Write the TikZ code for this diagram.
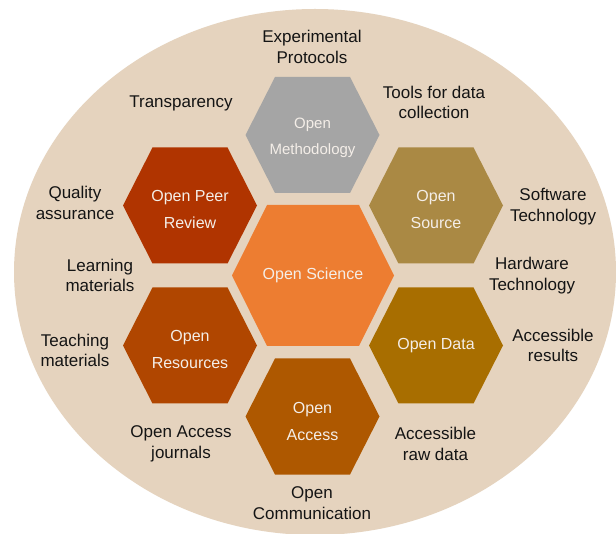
\documentclass[tikz,border=0pt]{standalone}
\usepackage{fontspec}
\setmainfont{Liberation Sans}
\definecolor{bgbeige}{RGB}{229,211,190}
\definecolor{cmeth}{RGB}{165,165,165}
\definecolor{cpeer}{RGB}{176,52,0}
\definecolor{csource}{RGB}{170,137,68}
\definecolor{cscience}{RGB}{237,125,49}
\definecolor{cres}{RGB}{176,70,0}
\definecolor{cdata}{RGB}{168,110,0}
\definecolor{caccess}{RGB}{174,88,0}
\definecolor{hexwhite}{RGB}{244,238,232}
\definecolor{lbltext}{RGB}{20,20,20}
\begin{document}
\begin{tikzpicture}[x=1pt,y=-1pt,
  lbl/.style={align=center, text=lbltext, font=\fontsize{17}{20.5}\selectfont, inner sep=0pt},
  hextxt/.style={align=center, text=hexwhite, font=\fontsize{16}{27}\selectfont, inner sep=0pt},
  smallhex/.pic={\path[pic actions] (-67,0)--(-37.5,-58)--(37.5,-58)--(67,0)--(37.5,58)--(-37.5,58)--cycle;},
  bighex/.pic={\path[pic actions] (-81,0)--(-46,-70.5)--(46,-70.5)--(81,0)--(46,70.5)--(-46,70.5)--cycle;}
]
\useasboundingbox (0,0) rectangle (616,534);
\fill[white] (0,0) rectangle (616,534);
\begin{scope}
\clip (0,0) rectangle (616,534);
\fill[bgbeige] (315,272) ellipse [x radius=301, y radius=263];
\end{scope}

% hexagons
\pic[fill=cmeth] at (312.5,135) {smallhex};
\pic[fill=cpeer] at (190,205.5) {smallhex};
\pic[fill=csource] at (436,205.5) {smallhex};
\pic[fill=cscience] at (313,275.5) {bighex};
\pic[fill=cres] at (190,345.5) {smallhex};
\pic[fill=cdata] at (436,345.5) {smallhex};
\pic[fill=caccess] at (312.5,416.5) {smallhex};

% hexagon texts
\node[hextxt, font=\fontsize{15}{26}\selectfont] (meth) at (312.5,138) {Open\\Methodology};
\node[hextxt] (peer) at (190,209) {Open Peer\\Review};
\node[hextxt] (source) at (436,209.5) {Open\\Source};
\node[hextxt] (science) at (313,275.5) {Open Science};
\node[hextxt] (res) at (190,349.5) {Open\\Resources};
\node[hextxt] (data) at (436,345.5) {Open Data};
\node[hextxt] (access) at (312.5,421) {Open\\Access};

% outer labels
\node[lbl] (protocols) at (312,47) {Experimental\\Protocols};
\node[lbl] (transp) at (181,103) {Transparency};
\node[lbl] (tools) at (434,102.5) {Tools for data\\collection};
\node[lbl] (quality) at (75,203) {Quality\\assurance};
\node[lbl] (software) at (553,206.5) {Software\\Technology};
\node[lbl] (learning) at (100,275.5) {Learning\\materials};
\node[lbl] (hardware) at (532,275.5) {Hardware\\Technology};
\node[lbl] (teaching) at (75,350.5) {Teaching\\materials};
\node[lbl] (results) at (553,345.5) {Accessible\\results};
\node[lbl] (journals) at (181,444) {Open Access\\journals};
\node[lbl] (rawdata) at (435.5,444) {Accessible\\raw data};
\node[lbl] (comm) at (312,503) {Open\\Communication};
\end{tikzpicture}
\end{document}
